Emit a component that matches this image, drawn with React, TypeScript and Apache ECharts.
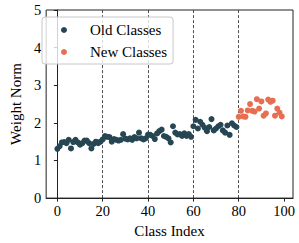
import React, { useEffect, useRef } from "react";
import * as echarts from "echarts";

const OLD_VALUES = [
  1.31, 1.38, 1.48, 1.49, 1.46, 1.55, 1.32, 1.49, 1.55, 1.48,
  1.42, 1.46, 1.53, 1.53, 1.46, 1.32, 1.44, 1.5, 1.46, 1.5,
  1.56, 1.65, 1.63, 1.62, 1.5, 1.57, 1.55, 1.53, 1.55, 1.7,
  1.58, 1.56, 1.59, 1.55, 1.62, 1.59, 1.74, 1.59, 1.56, 1.59,
  1.69, 1.68, 1.65, 1.57, 1.72, 1.78, 1.82, 1.65, 1.63, 1.59,
  1.48, 1.91, 1.74, 1.69, 1.7, 1.65, 1.72, 1.65, 1.7, 1.63,
  1.91, 2.08, 1.85, 2.03, 1.95, 1.87, 1.78, 1.89, 2.1, 1.8,
  1.85, 1.91, 1.95, 1.8, 1.74, 1.93, 1.68, 1.99, 1.93, 1.89,
];
const NEW_VALUES = [
  2.16, 2.32, 2.17, 2.16, 2.33, 2.5, 2.32, 2.3, 2.63, 2.38,
  2.57, 2.19, 2.25, 2.62, 2.56, 2.59, 2.19, 2.38, 2.27, 2.17,
];
const X_TICKS = [0, 20, 40, 60, 80, 100];
const SPLIT_LINES = [20, 40, 60, 80];
const SERIES_NAMES = ["Old Classes", "New Classes"];
const X_TITLE = "Class Index";
const Y_TITLE = "Weight Norm";

const FONT = "'Liberation Serif', 'Times New Roman', serif";

export default function App() {
  const ref = useRef<HTMLDivElement>(null);
  useEffect(() => {
    if (!ref.current) return;
    const chart = echarts.init(ref.current, undefined, { renderer: "svg" });
    const oldData = OLD_VALUES.map((v, i) => [i, v]);
    const newData = NEW_VALUES.map((v, i) => [OLD_VALUES.length + i, v]);
    chart.setOption({
      animation: false,
      grid: {
        left: 35,
        right: 6,
        top: 10,
        bottom: 41,
        show: true,
        borderColor: "#222",
        borderWidth: 1,
        backgroundColor: "transparent",
      },
      legend: {
        left: 42,
        top: 17,
        orient: "vertical",
        data: SERIES_NAMES,
        icon: "circle",
        itemWidth: 42,
        itemHeight: 6,
        itemGap: 4,
        padding: [4, 6, 3, 19],
        borderColor: "#c8c8c8",
        borderWidth: 1,
        borderRadius: 3,
        backgroundColor: "rgba(255,255,255,0.8)",
        textStyle: {
          fontFamily: FONT,
          fontSize: 15,
          color: "#000",
          lineHeight: 18,
        },
      },
      xAxis: {
        type: "value",
        min: -4.95,
        max: 103.95,
        name: X_TITLE,
        nameLocation: "middle",
        nameGap: 18,
        nameTextStyle: { fontFamily: FONT, fontSize: 15, color: "#000" },
        axisLine: { show: true, lineStyle: { color: "#222", width: 1 } },
        axisTick: {
          show: true,
          length: 3.5,
          customValues: X_TICKS,
          lineStyle: { color: "#222" },
        },
        axisLabel: {
          customValues: X_TICKS,
          fontFamily: FONT,
          fontSize: 14.5,
          color: "#000",
          margin: 5,
        },
        splitLine: { show: false },
      },
      yAxis: {
        type: "value",
        min: 0,
        max: 5,
        interval: 1,
        name: Y_TITLE,
        nameLocation: "middle",
        nameGap: 17,
        nameRotate: 90,
        nameTextStyle: { fontFamily: FONT, fontSize: 15, color: "#000" },
        axisLine: { show: true, lineStyle: { color: "#222", width: 1 } },
        axisTick: { show: true, length: 3.5, lineStyle: { color: "#222" } },
        axisLabel: {
          fontFamily: FONT,
          fontSize: 14.5,
          color: "#000",
          margin: 5,
        },
        splitLine: { show: false },
      },
      series: [
        {
          name: SERIES_NAMES[0],
          type: "scatter",
          data: oldData,
          symbolSize: 6,
          itemStyle: { color: "#264653", opacity: 1 },
          z: 3,
          markLine: {
            silent: true,
            symbol: "none",
            label: { show: false },
            lineStyle: { color: "#222", type: [3, 2], width: 0.8 },
            data: SPLIT_LINES.map((x) => ({ xAxis: x })),
            z: 1,
          },
        },
        {
          name: SERIES_NAMES[1],
          type: "scatter",
          data: newData,
          symbolSize: 6,
          itemStyle: { color: "#E76F51", opacity: 1 },
          z: 3,
        },
      ],
    });
    return () => chart.dispose();
  }, []);
  return (
    <div
      ref={ref}
      style={{ position: "absolute", left: 0, top: 0, width: 299, height: 243 }}
    />
  );
}
